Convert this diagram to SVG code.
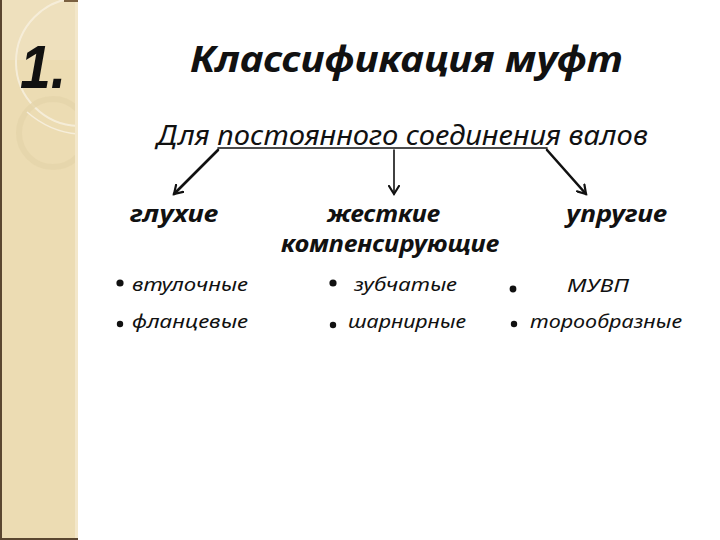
<svg xmlns="http://www.w3.org/2000/svg" width="720" height="540" viewBox="0 0 720 540">
<defs>
<style>
.t{font-family:"Noto Sans","Open Sans","DejaVu Sans",sans-serif;font-style:italic;fill:#111}
.b{font-weight:bold}
.sub{font-size:27px}
.lab{font-size:23px}
.it{font-size:19px}
.arr{stroke:#111;fill:none;stroke-linecap:round}
.dot{fill:#111}
</style>
<clipPath id="sb"><rect x="0" y="0" width="78" height="540"/></clipPath>
<marker id="ah" viewBox="0 0 12 12" refX="9" refY="6" markerWidth="12" markerHeight="12" markerUnits="userSpaceOnUse" orient="auto">
<path d="M1,1 L9,6 L1,11" fill="none" stroke="#111" stroke-width="2.2" stroke-linecap="round" stroke-linejoin="miter"/>
</marker>
</defs>
<rect width="720" height="540" fill="#ffffff"/>
<g id="sidebar">
<rect x="0" y="0" width="78" height="540" fill="#ecdcb3"/>
<g clip-path="url(#sb)">
<rect x="0" y="0" width="78" height="60" fill="#f0e3c3" opacity="0.6"/>
<circle cx="80" cy="62" r="64" fill="none" stroke="#f6eedb" stroke-width="2" opacity="0.9"/>
<circle cx="53" cy="133" r="34" fill="none" stroke="#e5d5aa" stroke-width="6" opacity="0.8"/>
<path d="M27,112 Q50,132 78,134" fill="none" stroke="#f6eedb" stroke-width="1.5"/>
</g>
<rect x="75" y="0" width="3" height="540" fill="#f3e7ca"/>
<rect x="0" y="0" width="2" height="540" fill="#5a4630"/>
<rect x="0" y="538" width="78" height="2" fill="#5a4630"/>
<rect x="64" y="0" width="14" height="2" fill="#7a6040"/>
<text x="20" y="88" font-family="Liberation Sans,Arial,sans-serif" font-weight="bold" font-style="italic" font-size="62" fill="#111" textLength="46" lengthAdjust="spacingAndGlyphs">1.</text>
</g>
<g id="title">
<text class="t b" x="190" y="72" font-size="36" textLength="433" lengthAdjust="spacingAndGlyphs">Классификация муфт</text>
</g>
<g id="root">
<text class="t sub" x="157" y="145" textLength="491" lengthAdjust="spacingAndGlyphs">Для постоянного соединения валов</text>
</g>
<g id="connectors">
<line class="arr" x1="218" y1="148" x2="547" y2="148" stroke-width="1.6"/>
<line class="arr" x1="218" y1="150" x2="174" y2="194" stroke-width="2.6" marker-end="url(#ah)"/>
<line class="arr" x1="394" y1="150" x2="394" y2="194" stroke-width="1.6" marker-end="url(#ah)"/>
<line class="arr" x1="547" y1="150" x2="586" y2="194" stroke-width="2.6" marker-end="url(#ah)"/>
</g>
<g id="node-gluhie">
<text class="t b lab" x="130" y="222" textLength="88" lengthAdjust="spacingAndGlyphs">глухие</text>
<circle class="dot" cx="120" cy="283" r="3.6"/>
<text class="t it" x="132" y="291" textLength="116" lengthAdjust="spacingAndGlyphs">втулочные</text>
<circle class="dot" cx="120" cy="324" r="3.2"/>
<text class="t it" x="132" y="328" textLength="116" lengthAdjust="spacingAndGlyphs">фланцевые</text>
</g>
<g id="node-zhestkie">
<text class="t b lab" x="327" y="222" textLength="113" lengthAdjust="spacingAndGlyphs">жесткие</text>
<text class="t b lab" x="281" y="252" textLength="218" lengthAdjust="spacingAndGlyphs">компенсирующие</text>
<circle class="dot" cx="333" cy="283" r="3.6"/>
<text class="t it" x="354" y="291" textLength="103" lengthAdjust="spacingAndGlyphs">зубчатые</text>
<circle class="dot" cx="333" cy="325" r="3.2"/>
<text class="t it" x="348" y="328" textLength="118" lengthAdjust="spacingAndGlyphs">шарнирные</text>
</g>
<g id="node-uprugie">
<text class="t b lab" x="566" y="222" textLength="101" lengthAdjust="spacingAndGlyphs">упругие</text>
<circle class="dot" cx="513" cy="289" r="3.4"/>
<text class="t it" x="567" y="292" textLength="62" lengthAdjust="spacingAndGlyphs">МУВП</text>
<circle class="dot" cx="514" cy="324" r="3.2"/>
<text class="t it" x="530" y="328" textLength="152" lengthAdjust="spacingAndGlyphs">торообразные</text>
</g>
</svg>
